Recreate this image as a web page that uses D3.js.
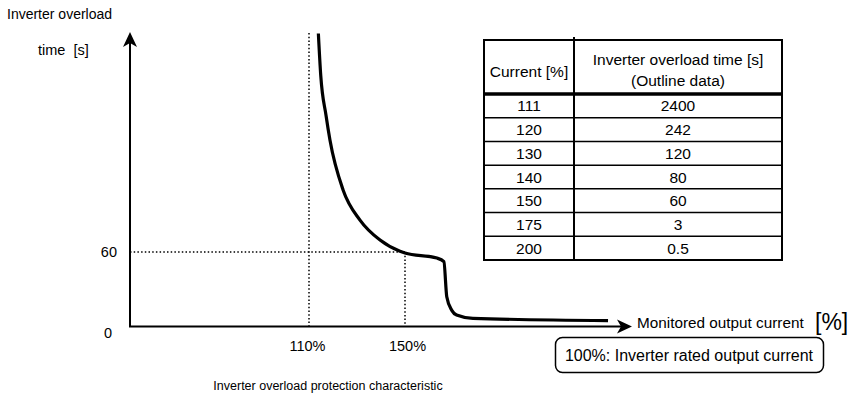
<!DOCTYPE html>
<html>
<head>
<meta charset="utf-8">
<script src="https://cdn.jsdelivr.net/npm/d3@7"></script>
<style>
  body { margin: 0; background: #fff; }
  svg text { font-family: "Liberation Sans", Arial, sans-serif; fill: #000; }
</style>
</head>
<body>
<div id="chart"></div>
<script>
// table data (outline data)
var tableCurrent = [111, 120, 130, 140, 150, 175, 200];
var tableTime = ['2400', '242', '120', '80', '60', '3', '0.5'];
var tableHeader = ['Current [%]', 'Inverter overload time [s]|(Outline data)'];

// schematic curve (current %, time in drawing units)
var curveCurrent = [113.9, 114.9, 117.1, 118.75, 124.2, 131.25, 139.6, 147.9, 150, 163.3, 166.2, 167.4, 169.5, 171.5, 178.3, 234.6];
var curveTime = [236, 202, 170, 150, 110, 85.7, 69.6, 60.6, 59.2, 55.1, 52.2, 24, 13, 9.3, 6.6, 4.7];

var xTicks = [110, 150];
var yTicks = [0, 60];

var width = 850;
var height = 396;
var fs = 14.5;

var svg = d3.select('#chart')
  .append('svg')
  .attr('width', width)
  .attr('height', height);

// scales: the drawing is schematic, 110% and 150% are the reference marks
var x = d3.scaleLinear().domain([110, 150]).range([309, 405]);
var y = d3.scaleLinear().domain([0, 60]).range([326.5, 252]);

var originX = 130, originY = y(0);
var yTop = 32, xEnd = 632;

// dotted guide lines
var dots = svg.append('g')
  .attr('stroke', '#000')
  .attr('stroke-width', 1.5)
  .attr('stroke-dasharray', '1.5,2.2');
dots.append('line')
  .attr('x1', x(110)).attr('x2', x(110))
  .attr('y1', 33).attr('y2', originY);
dots.append('line')
  .attr('x1', originX).attr('x2', x(150))
  .attr('y1', y(60)).attr('y2', y(60));
dots.append('line')
  .attr('x1', x(150)).attr('x2', x(150))
  .attr('y1', y(60)).attr('y2', originY);

// axes lines with arrow heads
svg.append('line')
  .attr('x1', originX).attr('y1', originY)
  .attr('x2', originX).attr('y2', yTop + 8)
  .attr('stroke', '#000').attr('stroke-width', 2);
svg.append('path')
  .attr('d', 'M' + originX + ',' + yTop + ' l7,15 l-7,-4 l-7,4 z')
  .attr('fill', '#000');
svg.append('line')
  .attr('x1', originX - 1).attr('y1', originY)
  .attr('x2', xEnd - 8).attr('y2', originY)
  .attr('stroke', '#000').attr('stroke-width', 2);
svg.append('path')
  .attr('d', 'M' + xEnd + ',' + originY + ' l-15,-7 l4,7 l-4,7 z')
  .attr('fill', '#000');

// tick labels via d3 axes
var xAxis = svg.append('g')
  .attr('transform', 'translate(0,' + originY + ')')
  .call(d3.axisBottom(x).tickValues(xTicks).tickSize(0).tickPadding(14)
    .tickFormat(function(d) { return d + '%'; }));
xAxis.select('.domain').remove();
xAxis.selectAll('text')
  .attr('font-size', fs)
  .attr('dx', function(d) { return d == 110 ? -2 : 2; });

var yAxis = svg.append('g')
  .attr('transform', 'translate(' + originX + ',0)')
  .call(d3.axisLeft(y).tickValues(yTicks).tickSize(0).tickPadding(13)
    .tickFormat(d3.format('d')));
yAxis.select('.domain').remove();
yAxis.selectAll('text')
  .attr('font-size', fs)
  .attr('dx', function(d) { return d == 0 ? -5 : 0; })
  .attr('dy', function(d) { return d == 0 ? '0.75em' : '0.32em'; });

// the characteristic curve
var points = curveCurrent.map(function(c, i) { return [c, curveTime[i]]; });
var line = d3.line()
  .x(function(d) { return x(d[0]); })
  .y(function(d) { return y(d[1]); })
  .curve(d3.curveMonotoneX);
svg.append('path')
  .datum(points)
  .attr('d', line)
  .attr('fill', 'none')
  .attr('stroke', '#000')
  .attr('stroke-width', 3.2)
  .attr('stroke-linejoin', 'round');

// axis titles
svg.append('text').attr('x', 7).attr('y', 19).attr('font-size', 14).text('Inverter overload');
svg.append('text').attr('x', 38).attr('y', 55).attr('font-size', fs).attr('xml:space', 'preserve').text('time  [s]');
svg.append('text').attr('x', 637).attr('y', 328).attr('font-size', 15.3).text('Monitored output current');
svg.append('text').attr('x', 815).attr('y', 330).attr('font-size', 23).text('[%]');

// note box
svg.append('rect')
  .attr('x', 555.5).attr('y', 337.5).attr('width', 268).attr('height', 35)
  .attr('rx', 7).attr('fill', 'none').attr('stroke', '#000').attr('stroke-width', 1.5);
svg.append('text').attr('x', 689).attr('y', 361).attr('text-anchor', 'middle')
  .attr('font-size', 16).text('100%: Inverter rated output current');

// caption
svg.append('text').attr('x', 328).attr('y', 390).attr('text-anchor', 'middle')
  .attr('font-size', 12.5).text('Inverter overload protection characteristic');

// table
var tLeft = 484, tMid = 574, tRight = 782, tTop = 40, tHead = 94, tBottom = 260;
var rowH = (tBottom - tHead) / tableCurrent.length;
var table = svg.append('g');

table.selectAll('.rowline')
  .data(d3.range(1, tableCurrent.length))
  .enter().append('line')
  .attr('x1', tLeft).attr('x2', tRight)
  .attr('y1', function(i) { return tHead + i * rowH; })
  .attr('y2', function(i) { return tHead + i * rowH; })
  .attr('stroke', '#000').attr('stroke-width', 1.5);

table.append('line').attr('x1', tLeft).attr('x2', tRight).attr('y1', tHead).attr('y2', tHead)
  .attr('stroke', '#000').attr('stroke-width', 3.5);
table.append('rect')
  .attr('x', tLeft).attr('y', tTop).attr('width', tRight - tLeft).attr('height', tBottom - tTop)
  .attr('fill', 'none').attr('stroke', '#000').attr('stroke-width', 2);
table.append('line').attr('x1', tMid).attr('x2', tMid).attr('y1', tTop - 3).attr('y2', tBottom + 1)
  .attr('stroke', '#000').attr('stroke-width', 2);

table.append('text').attr('x', (tLeft + tMid) / 2).attr('y', 77).attr('text-anchor', 'middle')
  .attr('font-size', 15.5).text(tableHeader[0]);
tableHeader[1].split('|').forEach(function(s, i) {
  table.append('text').attr('x', (tMid + tRight) / 2).attr('y', 65 + i * 21).attr('text-anchor', 'middle')
    .attr('font-size', 15.5).text(s);
});

table.selectAll('.cur')
  .data(tableCurrent)
  .enter().append('text')
  .attr('x', (tLeft + tMid) / 2)
  .attr('y', function(d, i) { return tHead + i * rowH + rowH / 2 + 5.5; })
  .attr('text-anchor', 'middle').attr('font-size', 15.5)
  .text(function(d) { return d; });
table.selectAll('.tim')
  .data(tableTime)
  .enter().append('text')
  .attr('x', (tMid + tRight) / 2)
  .attr('y', function(d, i) { return tHead + i * rowH + rowH / 2 + 5.5; })
  .attr('text-anchor', 'middle').attr('font-size', 15.5)
  .text(function(d) { return d; });
</script>
</body>
</html>
